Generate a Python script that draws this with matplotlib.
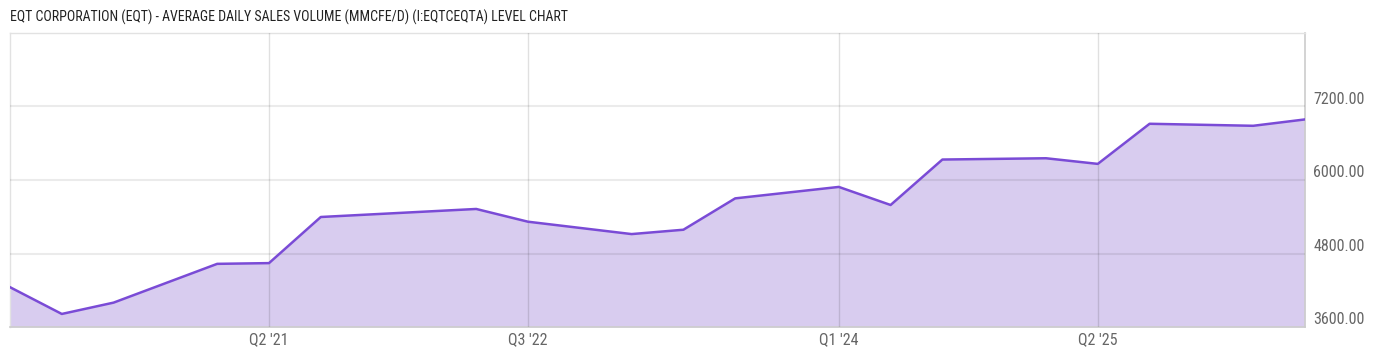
import matplotlib
matplotlib.use("Agg")
import matplotlib.pyplot as plt
import pandas as pd

quarters = ["2020Q1", "2020Q2", "2020Q3", "2021Q1", "2021Q2", "2021Q3", "2022Q2",
            "2022Q3", "2023Q1", "2023Q2", "2023Q3", "2024Q1", "2024Q2", "2024Q3",
            "2025Q1", "2025Q2", "2025Q3", "2026Q1", "2026Q2"]
values = [4250, 3813, 3998, 4631, 4643, 5396, 5527, 5319, 5117, 5188, 5700,
          5887, 5592, 6334, 6355, 6263, 6918, 6885, 6989]
tick_quarters = ["2021Q2", "2022Q3", "2024Q1", "2025Q2"]
tick_labels = ["Q2 '21", "Q3 '22", "Q1 '24", "Q2 '25"]
y_ticks = [3600, 4800, 6000, 7200]
y_labels = ["3600.00", "4800.00", "6000.00", "7200.00"]
title = "EQT CORPORATION (EQT) - AVERAGE DAILY SALES VOLUME (MMCFE/D) (I:EQTCEQTA) LEVEL CHART"

def qnum(q):
    p = pd.Period(q, freq="Q")
    return p.year * 4 + p.quarter - 1

x = [qnum(q) for q in quarters]
xt = [qnum(q) for q in tick_quarters]

plt.rcParams['font.family'] = ['Roboto Condensed', 'Liberation Sans Narrow', 'Roboto', 'DejaVu Sans']

fig = plt.figure(figsize=(14, 3.57), dpi=100)
ax = fig.add_axes([10/1400, 30/357, 1295/1400, 294/357])

ymin, ymax = 3600, 8400
ax.fill_between(x, values, ymin, color="#d8ccef", lw=0, zorder=2)
ax.plot(x, values, color="#7a4bd6", lw=1.8, zorder=4, solid_joinstyle="round")

ax.set_xlim(x[0], x[-1])
ax.set_ylim(ymin, ymax)

for yt in y_ticks[1:]:
    ax.axhline(yt, color="black", alpha=0.08, lw=1.5, zorder=3)
for t in xt:
    ax.axvline(t, color="black", alpha=0.12, lw=1, zorder=3)

ax.set_xticks(xt)
ax.set_xticklabels(tick_labels)
ax.set_yticks(y_ticks)
ax.set_yticklabels(y_labels)
ax.yaxis.tick_right()
ax.tick_params(axis="both", length=0, colors="#666666", labelsize=11.5)
ax.tick_params(axis="x", pad=4)
ax.tick_params(axis="y", pad=6)
for lbl in ax.get_yticklabels():
    lbl.set_verticalalignment("center")
    lbl.set_y(0)
import matplotlib.transforms as mtransforms
offset = mtransforms.ScaledTranslation(0, 7/100, fig.dpi_scale_trans)
for lbl in ax.get_yticklabels():
    lbl.set_transform(lbl.get_transform() + offset)

for s in ["left", "top"]:
    ax.spines[s].set_color("#e2e2e2")
    ax.spines[s].set_linewidth(1)
for s in ["right", "bottom"]:
    ax.spines[s].set_color("#cccccc")
    ax.spines[s].set_linewidth(1.2)

fig.text(10/1400, 1 - 17/357, title, fontsize=10, color="#222222", va="center", ha="left")

fig.savefig("out.png", dpi=100)
